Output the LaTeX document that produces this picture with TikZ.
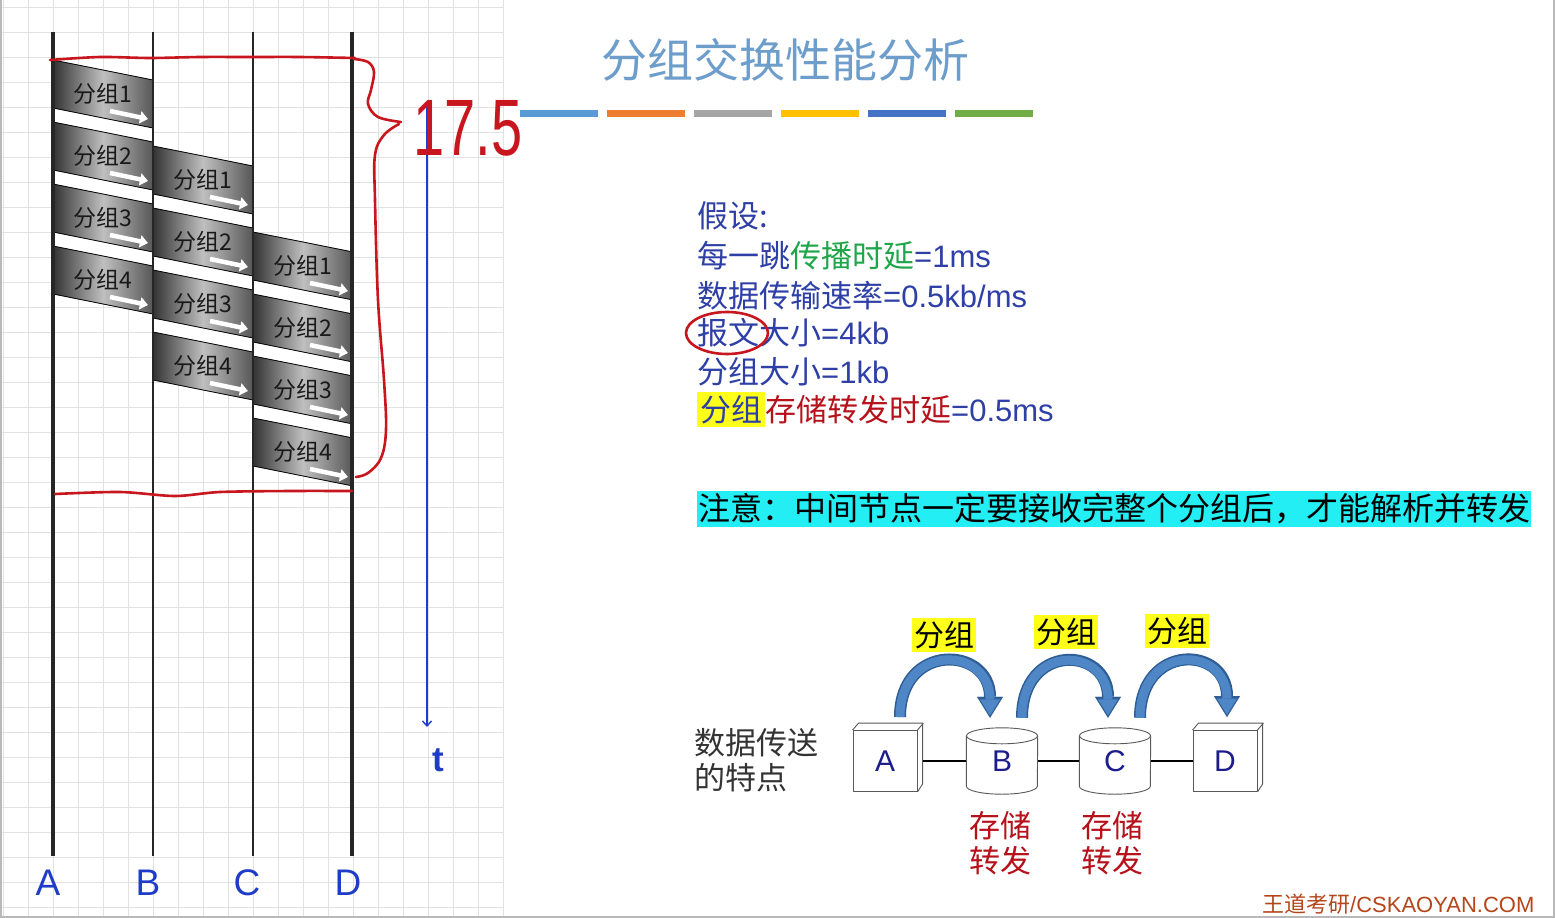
\documentclass[tikz,border=0pt]{standalone}
\usepackage{fontspec}
\setmainfont{Noto Sans CJK SC}
\newfontfamily\lat{Liberation Sans}
\usetikzlibrary{arrows.meta, positioning, calc}

\definecolor{gridgray}{HTML}{E2E2E2}
\definecolor{titleblue}{HTML}{6D9DCA}
\definecolor{barblue}{HTML}{5B9BD5}
\definecolor{barorange}{HTML}{ED7D31}
\definecolor{bargray}{HTML}{A5A5A5}
\definecolor{baryellow}{HTML}{FFC000}
\definecolor{bardark}{HTML}{4472C4}
\definecolor{bargreen}{HTML}{70AD47}
\definecolor{txtblue}{HTML}{2E3FA6}
\definecolor{txtgreen}{HTML}{1FA64A}
\definecolor{txtred}{HTML}{B5121B}
\definecolor{hlyellow}{HTML}{FFFF1A}
\definecolor{notecyan}{HTML}{22EEF4}
\definecolor{penred}{HTML}{C8161E}
\definecolor{axisblue}{HTML}{1E3CC8}
\definecolor{nodenavy}{HTML}{1C1C8C}
\definecolor{hopfill}{HTML}{4F87C6}
\definecolor{hopedge}{HTML}{2E5E95}
\definecolor{wmbrown}{HTML}{B5461C}

\newcommand{\fsz}[1]{\fontsize{#1}{#1}\selectfont}
\newcommand{\fszl}[1]{\fontsize{#1}{35}\selectfont}
\setlength{\fboxsep}{3pt}

\begin{document}
\begin{tikzpicture}[
  x=1pt, y=-1pt,
  % background grid
  gridline/.style={gridgray, line width=0.6pt},
  % packets on the time lines
  pkt/.style={draw=black, line width=0.8pt,
              left color=black!80, right color=black!66, middle color=black!25},
  pktlabel/.style={font=\fsz{23}, text=black!90, inner sep=0pt},
  pktarrow/.style={-{Triangle[width=12pt,length=8pt]}, white, line width=4.5pt},
  colname/.style={font=\lat\fsz{37}, text=axisblue, inner sep=0pt},
  % hand-drawn marks
  redpen/.style={penred, line width=2.6pt, line cap=round, line join=round},
  % text on the right
  assume/.style={anchor=base west, inner sep=0pt, font=\fsz{31}, text=txtblue},
  notebar/.style={fill=notecyan, font=\fsz{32}, text=black, anchor=west,
                  inner xsep=1pt, inner ysep=2pt, minimum height=36pt},
  % store-and-forward sketch
  hostbox/.style={draw=gray!70!black, fill=white, line width=0.9pt,
                  minimum width=64pt, minimum height=61pt, inner sep=0pt,
                  font=\lat\fsz{30}, text=nodenavy},
  storebox/.style={minimum width=71pt, minimum height=50pt, inner sep=0pt,
                   font=\lat\fsz{30}, text=nodenavy},
  boxface/.style={draw=gray!70!black, line width=0.9pt},
  link/.style={black, line width=1.2pt},
  hopout/.style={hopedge, line width=12pt,
                 -{Triangle[width=26pt,length=21pt,line width'=0.1pt]}},
  hopin/.style={hopfill, line width=9pt, shorten >=2.5pt,
                -{Triangle[width=20pt,length=16pt,line width'=0.1pt]}},
  hoplabel/.style={fill=hlyellow, font=\fsz{30}, inner xsep=2pt, inner ysep=3pt},
  sflabel/.style={font=\fszl{31}, text=txtred, align=center, inner sep=0pt},
]
\useasboundingbox (0,0) rectangle (1555,918);
\fill[white] (0,0) rectangle (1555,918);

% ── GRID ──────────────────────────────────────────
\foreach \gx in {3,28,...,503} \draw[gridline] (\gx,0) -- (\gx,918);
\foreach \gy in {7,32,...,907} \draw[gridline] (0,\gy) -- (503,\gy);

% ── PACKETS (3 hops x 4 packets) ──────────────────
\foreach \h in {0,1,2}
  \fill[white] (53+100*\h,60+86*\h) -- ++(100,20) -- ++(0,234) -- ++(-100,-20) -- cycle;
\foreach \h in {0,1,2} {
  \foreach \k in {1,...,4} {
    \pgfmathsetmacro\px{53+100*\h}
    \pgfmathsetmacro\py{60+62*(\k-1)+86*\h}
    \shade[pkt] (\px,\py) -- ++(100,20) -- ++(0,48) -- ++(-100,-20) -- cycle;
    \draw[pktarrow] (\px+57,\py+51) -- (\px+95,\py+59);
    \node[pktlabel] (p\k\h) at (\px+50,\py+34) {分组\k};
  }
}

% ── TIME LINES A..D ───────────────────────────────
\foreach \x/\w in {53/3.2pt, 153/1.1pt, 253/1.1pt, 352/3.2pt}
  \draw[line width=\w, black!85] (\x,32) -- (\x,856);
\foreach \n/\x in {A/48, B/148, C/247, D/348}
  \node[colname] (col\n) at (\x,883) {\n};

% time axis
\coordinate (t0) at (427,103);
\coordinate (t1) at (427,727);
\draw[axisblue, line width=1.4pt, -{Straight Barb[length=5pt,width=9pt]}] (t0) -- (t1);
\node[font=\lat\bfseries\fsz{35}, text=axisblue, inner sep=0pt] (tlab) at (438,760) {t};

% ── RED PEN ───────────────────────────────────────
\draw[redpen] plot[smooth] coordinates {(50,60) (100,57) (150,58) (200,57) (250,57) (300,57) (355,58)};
\draw[redpen] plot[smooth] coordinates {(55,494) (120,492) (175,496) (220,492) (290,491) (352,491)};
\draw[redpen] plot[smooth, tension=0.6] coordinates {(354,59) (368,62) (374,72) (371,90) (368,104) (378,117) (401,122)};
\draw[redpen] plot[smooth, tension=0.6] coordinates {(399,124) (384,135) (375,155) (375,200) (378,300) (384,380) (386,430) (381,458) (368,473) (356,477)};
\node[font=\lat\fsz{80}, text=penred, xscale=0.7, inner sep=0pt] (len) at (468,128) {17.5};

% ── TITLE ─────────────────────────────────────────
\node[font=\fsz{46}, text=titleblue] (title) at (785,60) {分组交换性能分析};
\foreach \c [count=\i from 0] in {barblue, barorange, bargray, baryellow, bardark, bargreen}
  \fill[\c] (520+87*\i,110) rectangle ++(78,7);

% ── ASSUMPTIONS ───────────────────────────────────
\node[assume] (as1) at (697,227) {假设:};
\node[assume] (as2) at (697,267) {每一跳\textcolor{txtgreen}{传播时延}{\lat =1ms}};
\node[assume] (as3) at (697,307) {数据传输速率{\lat =0.5kb/ms}};
\node[assume] (as4) at (697,344) {报文大小{\lat =4kb}};
\node[assume] (as5) at (697,383) {分组大小{\lat =1kb}};
\node[assume] (as6) at (697,421) {\colorbox{hlyellow}{分组}\textcolor{txtred}{存储转发时延}{\lat =0.5ms}};
\draw[redpen] (727,333) ellipse [x radius=41, y radius=21];

\node[notebar] (note) at (697,509) {注意：中间节点一定要接收完整个分组后，才能解析并转发};

% ── STORE AND FORWARD ─────────────────────────────
\node[font=\fszl{31}, text=black!80, align=left, anchor=west, inner sep=0pt] (feat) at (694,760) {数据传送\\的特点};

\node[hostbox] (na) at (885,761) {A};
\node[storebox] (nb) at (1002,761) {B};
\node[storebox] (nc) at (1115,761) {C};
\node[hostbox] (nd) at (1225,761) {D};

\foreach \b in {na, nd} {
  \draw[boxface] (\b.north west) -- ++(6,-7) -- ++(64,0) -- ++(0,61) -- (\b.south east);
  \draw[boxface] (\b.north east) -- ++(6,-7);
}
\foreach \b in {nb, nc} {
  \draw[boxface] (\b.north west) -- (\b.south west)
    arc[start angle=180, end angle=0, x radius=35.5, y radius=8] -- (\b.north east);
  \draw[boxface] (\b.north) ellipse [x radius=35.5, y radius=8];
}

\draw[link] ([xshift=6pt]na.east) -- (nb.west);
\draw[link] (nb.east) -- (nc.west);
\draw[link] (nc.east) -- (nd.west);

\foreach \s/\e/\so/\ss/\eo/\es in {na/nb/15/13/-12/18, nb/nc/20/18/-7/18, nc/nd/25/18/2/13} {
  \draw[hopout] ([xshift=\so pt,yshift=\ss pt]\s.north) .. controls +(0,-75) and +(0,-72) .. ([xshift=\eo pt,yshift=\es pt]\e.north);
  \draw[hopin] ([xshift=\so pt,yshift=\ss pt]\s.north) .. controls +(0,-75) and +(0,-72) .. ([xshift=\eo pt,yshift=\es pt]\e.north);
}

\node[hoplabel] (lab1) at (944,635) {分组};
\node[hoplabel] (lab2) at (1066,632) {分组};
\node[hoplabel] (lab3) at (1177,631) {分组};

\node[sflabel] (sfb) at (1000,843) {存储\\转发};
\node[sflabel] (sfc) at (1112,843) {存储\\转发};

% ── FOOTER + FRAME ────────────────────────────────
\node[font=\fsz{22}, text=wmbrown, anchor=base west, inner sep=0pt] (wm) at (1262,912) {王道考研{\lat /CSKAOYAN.COM}};
\draw[gray!55, line width=2pt] (1,0) -- (1,917) -- (1554,917) -- (1554,0);

\end{tikzpicture}
\end{document}
